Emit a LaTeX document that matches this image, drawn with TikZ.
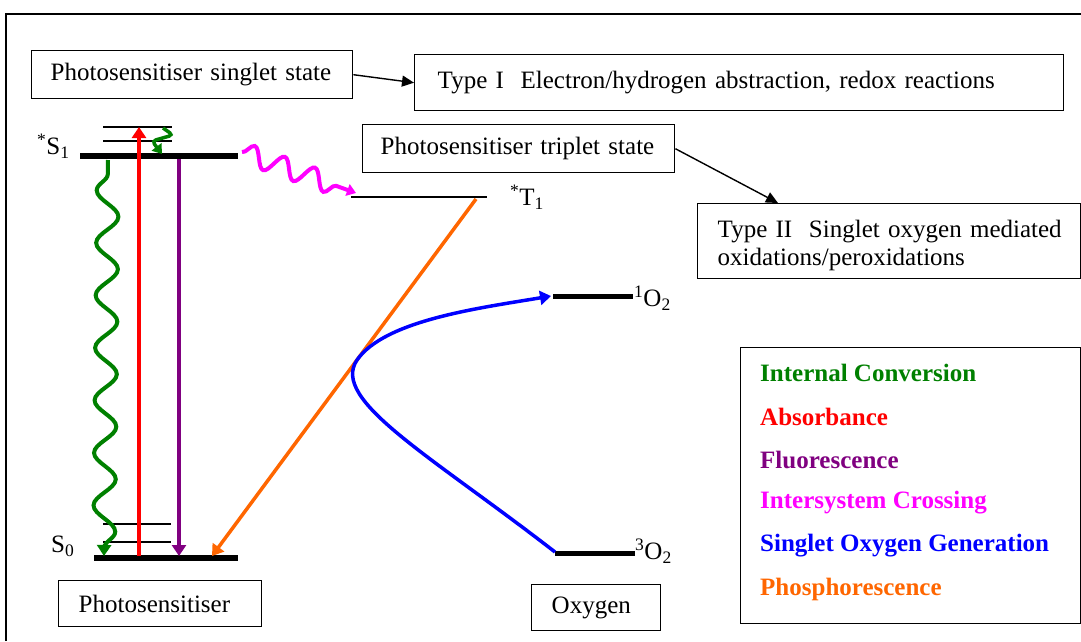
\documentclass[tikz,border=0pt]{standalone}
\usepackage{fontspec}
\setmainfont{Liberation Serif}
\usetikzlibrary{arrows.meta,decorations.pathmorphing,calc}
\definecolor{icgreen}{RGB}{0,128,0}
\definecolor{abred}{RGB}{255,0,0}
\definecolor{flpurple}{RGB}{128,0,128}
\definecolor{iscmag}{RGB}{255,0,255}
\definecolor{sogblue}{RGB}{0,0,255}
\definecolor{phorange}{RGB}{255,102,0}
\begin{document}
\begin{tikzpicture}[x=1pt,y=-1pt,
  every node/.style={font=\fontsize{25}{28.5}\selectfont, inner sep=0pt},
  tbox/.style={draw, line width=1.4pt, anchor=north west, align=left},
  lvl/.style={line width=6pt},
  thinlvl/.style={line width=1.5pt},
  conn/.style={line width=1.4pt, -{Triangle[length=12pt,width=11pt]}},
  ctip/.style={-{Triangle[length=11pt,width=14pt]}},
  stip/.style={-{Triangle[length=9pt,width=12pt]}},
  lab/.style={anchor=west},
  legend/.style={anchor=west, font=\fontsize{25}{28.5}\selectfont\bfseries}]
\useasboundingbox (0,0) rectangle (1081,641);
% outer frame
\draw[line width=1.6pt] (6,641) -- (6,14) -- (1081,14);

% text boxes
\node[tbox, minimum height=48pt, inner xsep=19pt, text width=283pt] (sing) at (31,50) {\mbox{Photosensitiser singlet state}};
\node[tbox, minimum height=56pt, inner xsep=23pt, text width=603pt] (typeI) at (414,54) {\mbox{Type I\ \ Electron/hydrogen abstraction, redox reactions}};
\node[tbox, minimum height=48pt, inner xsep=18pt, text width=276pt] (trip) at (362,124) {\mbox{Photosensitiser triplet state}};
\node[tbox, minimum height=75pt, inner xsep=20pt, text width=343pt] (typeII) at (697,203) {\mbox{\rule{0pt}{26pt}Type II\ \ Singlet oxygen mediated}\\\mbox{oxidations/peroxidations}};
\node[tbox, minimum height=46pt, inner xsep=20pt, text width=163pt] (psbox) at (58,580) {\mbox{Photosensitiser}};
\node[tbox, minimum height=46pt, inner xsep=20pt, text width=89pt] (oxbox) at (531,584) {\mbox{Oxygen}};

\draw[conn] (sing.east) -- (typeI.west);
\draw[conn] (trip.east) -- ([xshift=81pt]typeII.north west);

% legend
\node[draw, line width=1.4pt, anchor=north west, minimum width=340pt, minimum height=276pt] (legbox) at (740,347) {};
\node[legend, text=icgreen] (lg1) at (760,373) {Internal Conversion};
\node[legend, text=abred] (lg2) at (760,417) {Absorbance};
\node[legend, text=flpurple] (lg3) at (760,460) {Fluorescence};
\node[legend, text=iscmag] (lg4) at (760,503) {Intersystem Crossing};
\node[legend, text=sogblue] (lg5) at (760,546) {Singlet Oxygen Generation};
\node[legend, text=phorange] (lg6) at (760,589) {Phosphorescence};

% energy levels
\coordinate (s1l) at (80,156); \coordinate (s1r) at (238,156);
\coordinate (s1al) at (103,127); \coordinate (s1ar) at (172,127);
\coordinate (s1bl) at (103,141); \coordinate (s1br) at (172,141);
\coordinate (s0l) at (94,558); \coordinate (s0r) at (238,558);
\coordinate (s0al) at (103,524); \coordinate (s0ar) at (171,524);
\coordinate (s0bl) at (103,542); \coordinate (s0br) at (171,542);
\coordinate (t1l) at (351,197); \coordinate (t1r) at (487,197);
\coordinate (o1l) at (553,296); \coordinate (o1r) at (633,296);
\coordinate (o3l) at (555,553); \coordinate (o3r) at (635,553);
\draw[lvl] (s1l) -- (s1r);
\draw[thinlvl] (s1al) -- (s1ar);
\draw[thinlvl] (s1bl) -- (s1br);
\draw[lvl] (s0l) -- (s0r);
\draw[thinlvl] (s0al) -- (s0ar);
\draw[thinlvl] (s0bl) -- (s0br);
\draw[line width=2pt] (t1l) -- (t1r);
\draw[line width=5pt] (o1l) -- (o1r);
\draw[line width=5pt] (o3l) -- (o3r);

% level labels
\node[lab] (lS1) at (37,146) {\textsuperscript{*}S\textsubscript{1}};
\node[lab] (lS0) at (51,546) {S\textsubscript{0}};
\node[lab] (lT1) at (510,197) {\textsuperscript{*}T\textsubscript{1}};
\node[lab] (lO1) at (634,298) {\textsuperscript{1}O\textsubscript{2}};
\node[lab] (lO3) at (635,551) {\textsuperscript{3}O\textsubscript{2}};

% transitions
\coordinate (abs0) at (139,556); \coordinate (abs1) at (139,127);
\draw[abred, line width=4pt, ctip] (abs0) -- (abs1);
\coordinate (fl0) at (179,159); \coordinate (fl1) at (179,556);
\draw[flpurple, line width=4pt, ctip] (fl0) -- (fl1);
\coordinate (ph0) at (476,199); \coordinate (ph1) at (212,556);
\draw[phorange, line width=3.5pt, ctip] (ph0) -- (ph1);
\coordinate (ic0) at (108,160); \coordinate (ic1) at (104,556);
\draw[icgreen, line width=4pt, ctip, decorate,
  decoration={snake, mirror, amplitude=11pt, segment length=52.5pt, pre length=14pt, post length=4pt}] (ic0) -- (ic1);
\coordinate (isc0) at (242,152); \coordinate (isc1) at (356,193);
\draw[iscmag, line width=4pt, stip, decorate,
  decoration={snake, amplitude=10pt, segment length=32pt, post length=10pt}] (isc0) -- (isc1);
\coordinate (vr0) at (163,128); \coordinate (vr1) at (162,154);
\draw[icgreen, line width=3.5pt, stip, rounded corners=4pt] (vr0) -- (173,135) -- (152,141) -- (vr1);
\coordinate (sg0) at (555,552); \coordinate (sg1) at (551,296);
\draw[sogblue, line width=3.5pt, ctip] (sg0) .. controls (430,455) and (330,400) .. (357,360)
  .. controls (385,320) and (480,308) .. (sg1);
\end{tikzpicture}
\end{document}
